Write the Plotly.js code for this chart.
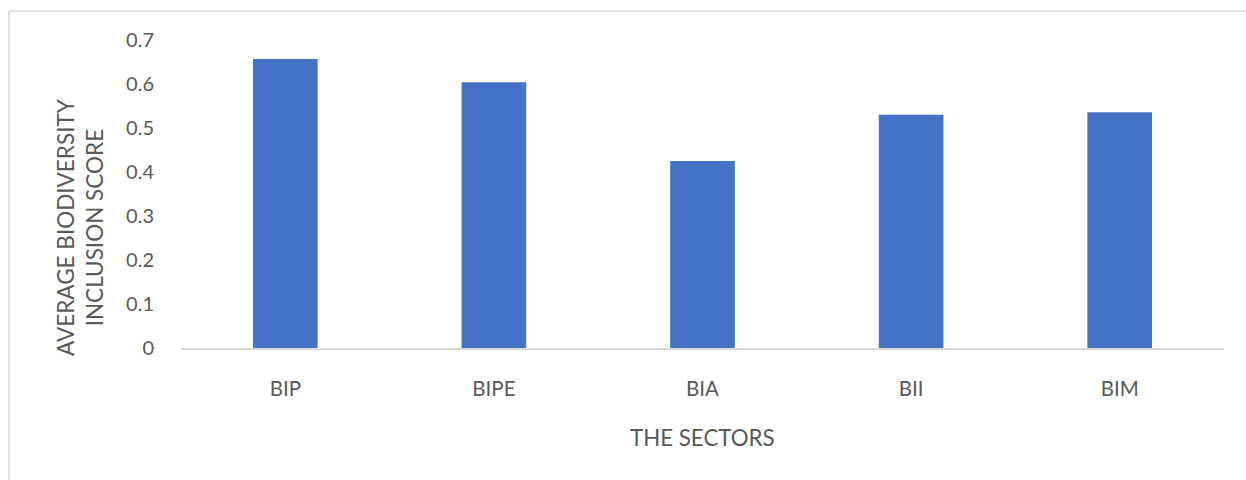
<!DOCTYPE html>
<html>
<head>
<meta charset="utf-8">
<script src="https://cdn.plot.ly/plotly-3.0.1.min.js"></script>
<style>html,body{margin:0;padding:0;background:#fff;}#chart{width:1246px;height:480px;}</style>
</head>
<body>
<div id="chart"></div>
<script>
const categories = ["BIP", "BIPE", "BIA", "BII", "BIM"];
const scores = [0.657, 0.604, 0.425, 0.530, 0.536];
const yTickVals = [0, 0.1, 0.2, 0.3, 0.4, 0.5, 0.6, 0.7];
const yTickText = ["0", "0.1", "0.2", "0.3", "0.4", "0.5", "0.6", "0.7"];

const font = "Lato, 'Open Sans', sans-serif";
const textColor = "#595959";

const data = [{
  type: "bar",
  x: categories,
  y: scores,
  marker: {color: "#4472C4"},
  hoverinfo: "x+y"
}];

const layout = {
  width: 1246,
  height: 480,
  margin: {l: 181, r: 22, t: 40, b: 132},
  paper_bgcolor: "#ffffff",
  plot_bgcolor: "#ffffff",
  bargap: 0.69,
  showlegend: false,
  font: {family: font, color: textColor, size: 20},
  xaxis: {
    type: "category",
    showgrid: false,
    showline: true,
    linecolor: "#D9D9D9",
    linewidth: 1.5,
    ticks: "outside",
    ticklen: 22,
    tickcolor: "rgba(0,0,0,0)",
    tickfont: {family: font, color: textColor, size: 20.5},
    zeroline: false
  },
  yaxis: {
    range: [0, 0.7],
    tickvals: yTickVals,
    ticktext: yTickText,
    showgrid: false,
    showline: false,
    zeroline: false,
    ticks: "outside",
    ticklen: 22,
    tickcolor: "rgba(0,0,0,0)",
    tickfont: {family: font, color: textColor, size: 20}
  },
  annotations: [
    {
      text: "AVERAGE BIODIVERSITY<br>INCLUSION SCORE",
      xref: "paper", yref: "paper",
      x: -0.0968, y: 0.393,
      xanchor: "center", yanchor: "middle",
      textangle: -90,
      showarrow: false,
      font: {family: font, color: textColor, size: 22.5},
      align: "center"
    },
    {
      text: "THE SECTORS",
      xref: "paper", yref: "paper",
      x: 0.5, y: -0.29,
      xanchor: "center", yanchor: "middle",
      showarrow: false,
      font: {family: font, color: textColor, size: 22.3}
    }
  ],
  shapes: [
    {type: "line", xref: "paper", yref: "paper", x0: -0.1649, x1: 1.1, y0: 1.094, y1: 1.094, line: {color: "#D9D9D9", width: 1.5}},
    {type: "line", xref: "paper", yref: "paper", x0: -0.1649, x1: -0.1649, y0: 1.094, y1: -0.5, line: {color: "#D9D9D9", width: 1.5}}
  ]
};

Plotly.newPlot("chart", data, layout, {displayModeBar: false, staticPlot: true});
</script>
</body>
</html>
